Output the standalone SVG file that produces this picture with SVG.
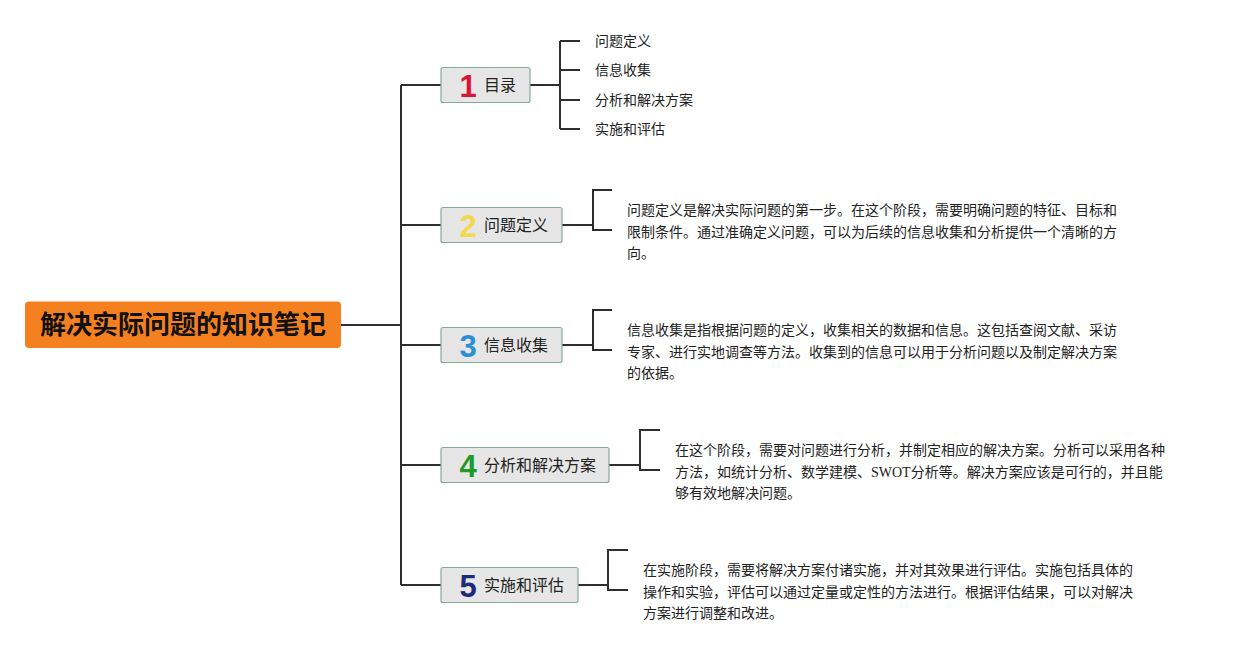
<svg xmlns="http://www.w3.org/2000/svg" width="1235" height="650" viewBox="0 0 1235 650">
<style>
.ln{fill:none;stroke:#2e2e2e;stroke-width:2}
.nd{fill:#e6e6e6;stroke:#86ab9c;stroke-width:1.2}
.num{font-family:"Liberation Sans","DejaVu Sans",sans-serif;font-weight:bold;font-size:31px;text-anchor:middle}
.lbl{font-family:"Noto Sans CJK SC",sans-serif;font-size:16px;fill:#222}
.sub{font-family:"Noto Sans CJK SC",sans-serif;font-size:14px;fill:#222}
.par{font-family:"Liberation Serif","Noto Sans CJK SC",serif;font-size:14px;fill:#222}
.par tspan{font-family:"Noto Sans CJK SC",sans-serif}
.par tspan.lat{font-family:"Liberation Serif",serif}
</style>
<rect width="1235" height="650" fill="#ffffff"/>
<g id="connectors">
<path class="ln" d="M341 325H401M401 85V585M401 85H441M401 225H441M401 345H441M401 465H441M401 585H441"/>
<path class="ln" d="M530 85H560M560 41V129M560 41H580M560 70H580M560 100H580M560 129H580"/>
<path class="ln" d="M562 225H593M612 190H593V230H612"/>
<path class="ln" d="M562 345H593M612 310H593V350H612"/>
<path class="ln" d="M609 465H640M660 430H640V470H660"/>
<path class="ln" d="M578 585H608M628 550H608V590H628"/>
</g>
<g id="root">
<rect x="25" y="301.5" width="316" height="46.5" rx="4" fill="#f4801f"/>
<text x="183" y="334" font-family="Noto Sans CJK SC,sans-serif" font-size="26" font-weight="bold" text-anchor="middle" fill="#111">解决实际问题的知识笔记</text>
</g>
<g id="node1">
<rect class="nd" x="441" y="67.5" width="89" height="35" rx="2"/>
<text class="num" x="468" y="96.5" fill="#d8163a">1</text>
<text class="lbl" x="484" y="91">目录</text>
</g>
<g id="node1-children">
<text class="sub" x="595" y="46">问题定义</text>
<text class="sub" x="595" y="75">信息收集</text>
<text class="sub" x="595" y="105">分析和解决方案</text>
<text class="sub" x="595" y="134">实施和评估</text>
</g>
<g id="node2">
<rect class="nd" x="441" y="207.5" width="121" height="35" rx="2"/>
<text class="num" x="468" y="236.5" fill="#f2d84c">2</text>
<text class="lbl" x="484" y="231">问题定义</text>
</g>
<g id="text2">
<text class="par" x="627" y="214.5"><tspan>问题定义是解决实际问题的第一步。在这个阶段，需要明确问题的特征、目标和</tspan></text>
<text class="par" x="627" y="236.5"><tspan>限制条件。通过准确定义问题，可以为后续的信息收集和分析提供一个清晰的方</tspan></text>
<text class="par" x="627" y="258"><tspan>向。</tspan></text>
</g>
<g id="node3">
<rect class="nd" x="441" y="327.5" width="121" height="35" rx="2"/>
<text class="num" x="468" y="356.5" fill="#2a8fd6">3</text>
<text class="lbl" x="484" y="351">信息收集</text>
</g>
<g id="text3">
<text class="par" x="627" y="334.5"><tspan>信息收集是指根据问题的定义，收集相关的数据和信息。这包括查阅文献、采访</tspan></text>
<text class="par" x="627" y="356.5"><tspan>专家、进行实地调查等方法。收集到的信息可以用于分析问题以及制定解决方案</tspan></text>
<text class="par" x="627" y="378"><tspan>的依据。</tspan></text>
</g>
<g id="node4">
<rect class="nd" x="441" y="447.5" width="168" height="35" rx="2"/>
<text class="num" x="468" y="476.5" fill="#1f9a2b">4</text>
<text class="lbl" x="484" y="471">分析和解决方案</text>
</g>
<g id="text4">
<text class="par" x="675" y="454.5"><tspan>在这个阶段，需要对问题进行分析，并制定相应的解决方案。分析可以采用各种</tspan></text>
<text class="par" x="675" y="476.5"><tspan>方法，如统计分析、数学建模、</tspan><tspan class="lat">SWOT</tspan><tspan>分析等。解决方案应该是可行的，并且能</tspan></text>
<text class="par" x="675" y="498"><tspan>够有效地解决问题。</tspan></text>
</g>
<g id="node5">
<rect class="nd" x="441" y="567.5" width="137" height="35" rx="2"/>
<text class="num" x="468" y="596.5" fill="#1e2a7c">5</text>
<text class="lbl" x="484" y="591">实施和评估</text>
</g>
<g id="text5">
<text class="par" x="643" y="574.5"><tspan>在实施阶段，需要将解决方案付诸实施，并对其效果进行评估。实施包括具体的</tspan></text>
<text class="par" x="643" y="596.5"><tspan>操作和实验，评估可以通过定量或定性的方法进行。根据评估结果，可以对解决</tspan></text>
<text class="par" x="643" y="618"><tspan>方案进行调整和改进。</tspan></text>
</g>
</svg>
